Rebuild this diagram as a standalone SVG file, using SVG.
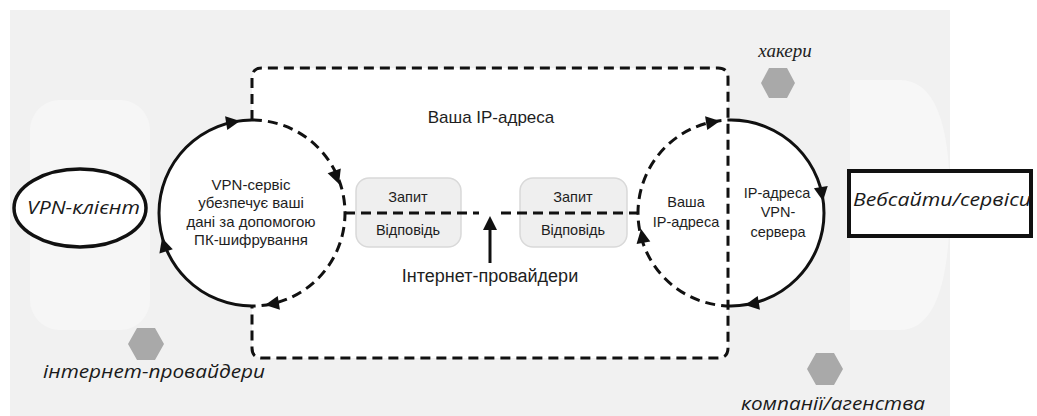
<svg xmlns="http://www.w3.org/2000/svg" width="1037" height="416" viewBox="0 0 1037 416">
<style>
.dash{fill:none;stroke:#111;stroke-width:3;stroke-dasharray:10 6}
.solid{fill:none;stroke:#111;stroke-width:3}
.ah{fill:#111}
.lbl{font-family:"Liberation Sans",Arial,sans-serif;fill:#1e1e1e;text-anchor:middle}
.it{font-family:"Open Sans","Liberation Sans",sans-serif;font-style:italic;fill:#1a1a1a}
.hex{fill:#a9a9a9}
.box{fill:#efefef;stroke:#d9d9d9;stroke-width:1.5}
</style>
<defs>
<polygon id="tri" points="0,0 -14,-7 -14,7"/>
</defs>
<rect width="1037" height="416" fill="#ffffff"/>
<rect x="10" y="10" width="940" height="406" fill="#f1f1f1"/>
<rect x="30" y="100" width="120" height="230" rx="30" fill="#f6f6f6"/>
<path d="M850,80 L900,80 Q950,80 950,200 Q950,330 900,330 L850,330 Z" fill="#f7f7f7"/>
<rect x="252" y="68" width="476" height="290" rx="10" fill="#ffffff"/>

<g id="hackers">
<polygon class="hex" points="761,83 769,68 787,68 795,83 787,98 769,98"/>
<text x="785" y="57" font-family="Liberation Serif,serif" font-style="italic" font-size="19" fill="#222" text-anchor="middle">хакери</text>
</g>
<g id="isp-label">
<polygon class="hex" points="128,344 137,328 155,328 164,344 155,360 137,360"/>
<text class="it" x="43" y="378" font-size="19" textLength="222" lengthAdjust="spacingAndGlyphs">інтернет-провайдери</text>
</g>
<g id="companies">
<polygon class="hex" points="807,369 816,353 834,353 843,369 834,385 816,385"/>
<text class="it" x="741" y="410" font-size="19" textLength="184" lengthAdjust="spacingAndGlyphs">компанії/агенства</text>
</g>

<g id="vpn-client">
<ellipse cx="80" cy="208" rx="66" ry="39" fill="#ffffff" stroke="#111" stroke-width="3.5"/>
<text class="it" x="27" y="214" font-size="19" textLength="113" lengthAdjust="spacingAndGlyphs">VPN-клієнт</text>
</g>

<g id="websites">
<rect x="849" y="171" width="182" height="65" fill="#ffffff" stroke="#111" stroke-width="4"/>
<text class="it" x="853" y="206" font-size="19" textLength="178" lengthAdjust="spacingAndGlyphs">Вебсайти/сервіси</text>
</g>

<g id="req-left">
<rect class="box" x="356" y="178" width="105" height="69" rx="13"/>
<text class="lbl" x="408" y="202" font-size="14.5">Запит</text>
<text class="lbl" x="408" y="235" font-size="14.5">Відповідь</text>
</g>
<g id="req-right">
<rect class="box" x="520" y="178" width="107" height="69" rx="13"/>
<text class="lbl" x="573" y="202" font-size="14.5">Запит</text>
<text class="lbl" x="573" y="235" font-size="14.5">Відповідь</text>
</g>

<g id="vpn-service">
<circle cx="252" cy="213" r="93" fill="#ffffff"/>
<text class="lbl" x="251" y="190" font-size="15">VPN-сервіс</text>
<text class="lbl" x="251" y="208" font-size="15">убезпечує ваші</text>
<text class="lbl" x="251" y="227" font-size="15">дані за допомогою</text>
<text class="lbl" x="251" y="245" font-size="15">ПК-шифрування</text>
</g>

<g id="vpn-server">
<circle cx="731" cy="213" r="93" fill="#ffffff"/>
<text class="lbl" x="686" y="207" font-size="14.5">Ваша</text>
<text class="lbl" x="686" y="227" font-size="14.5">IP-адреса</text>
<text class="lbl" x="777" y="198" font-size="14.5">IP-адреса</text>
<text class="lbl" x="778" y="217" font-size="14.5">VPN-</text>
<text class="lbl" x="778" y="237" font-size="14.5">сервера</text>
</g>

<g id="your-ip">
<text class="lbl" x="491" y="123" font-size="17">Ваша IP-адреса</text>
</g>
<g id="isp">
<text class="lbl" x="490" y="282" font-size="18">Інтернет-провайдери</text>
</g>

<g id="connectors">
<path class="dash" d="M252,120 L252,78 Q252,68 262,68 L718,68 Q728,68 728,78 L728,348 Q728,358 718,358 L262,358 Q252,358 252,348 L252,306"/>
<path class="solid" d="M252,306 A93,93 0 0 1 252,120"/>
<path class="dash" d="M252,120 A93,93 0 0 1 252,306"/>
<path class="solid" d="M731,120 A93,93 0 0 1 731,306"/>
<path class="dash" d="M731,306 A93,93 0 0 1 731,120"/>
<path class="dash" d="M345,213 L479,213"/>
<path class="dash" d="M501,213 L638,213"/>
<path class="solid" d="M490,263 L490,228"/>
<use href="#tri" class="ah" transform="translate(490,216) rotate(-90)"/>
<use href="#tri" class="ah" transform="translate(240,121) rotate(-9)"/>
<use href="#tri" class="ah" transform="translate(339,184) rotate(70)"/>
<use href="#tri" class="ah" transform="translate(265,305) rotate(171)"/>
<use href="#tri" class="ah" transform="translate(162,238) rotate(-107)"/>
<use href="#tri" class="ah" transform="translate(720,121) rotate(-9)"/>
<use href="#tri" class="ah" transform="translate(823,201) rotate(81)"/>
<use href="#tri" class="ah" transform="translate(745,305) rotate(171)"/>
<use href="#tri" class="ah" transform="translate(641,229) rotate(-100)"/>
</g>
</svg>
